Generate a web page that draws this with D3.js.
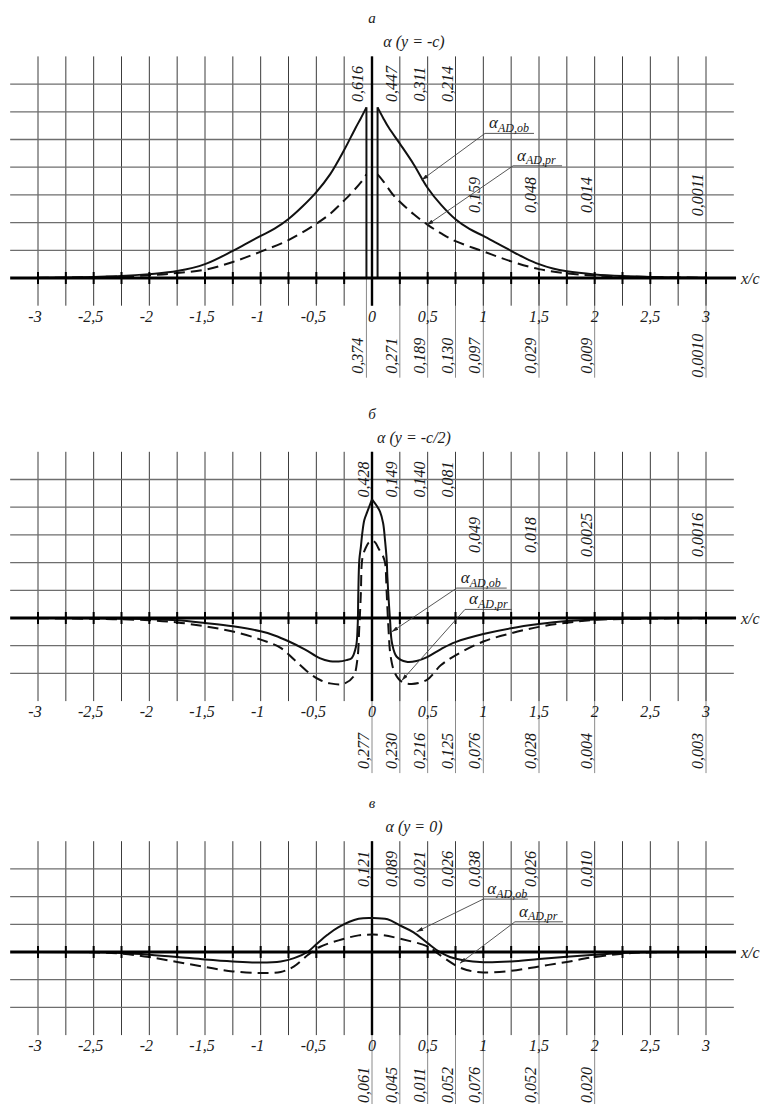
<!DOCTYPE html>
<html><head><meta charset="utf-8">
<script src="https://cdn.jsdelivr.net/npm/d3@7/dist/d3.min.js"></script>
<style>
body{margin:0;background:#fff}
</style>
</head><body>
<svg id="c" width="762" height="1104" font-family="'Liberation Serif', 'DejaVu Serif', serif" font-style="italic"></svg>
<script>
// ---------- shared axis data ----------
const xTicks = d3.range(-3, 3.0001, 0.25);
const xLabels = [-3, -2.5, -2, -1.5, -1, -0.5, 0, 0.5, 1, 1.5, 2, 2.5, 3];

// ---------- panel а : α (y = -c) ----------
const aObLeftX  = [-3, -2.75, -2.5, -2.25, -2, -1.75, -1.5, -1.25, -1.125, -1, -0.875, -0.75, -0.625, -0.5, -0.375, -0.25, -0.15, -0.1, -0.05];
const aObLeftV  = [0.001, 0.002, 0.004, 0.007, 0.014, 0.025, 0.05, 0.098, 0.125, 0.152, 0.178, 0.213, 0.258, 0.31, 0.375, 0.462, 0.54, 0.577, 0.616];
const aObRightX = [0.05, 0.1, 0.15, 0.25, 0.375, 0.5, 0.625, 0.75, 0.875, 1, 1.125, 1.25, 1.375, 1.5, 1.625, 1.75, 2, 2.25, 2.5, 2.75, 3];
const aObRightV = [0.616, 0.578, 0.543, 0.485, 0.41, 0.325, 0.262, 0.212, 0.177, 0.152, 0.125, 0.098, 0.072, 0.05, 0.034, 0.024, 0.013, 0.007, 0.004, 0.002, 0.001];
const aPrLeftX  = [-3, -2.5, -2, -1.75, -1.5, -1.25, -1, -0.75, -0.5, -0.375, -0.25, -0.2, -0.1, -0.05];
const aPrLeftV  = [0.001, 0.003, 0.01, 0.018, 0.03, 0.058, 0.095, 0.137, 0.196, 0.232, 0.28, 0.3, 0.345, 0.374];
const aPrRightX = [0.05, 0.1, 0.19, 0.25, 0.375, 0.5, 0.625, 0.75, 1, 1.25, 1.5, 1.75, 2, 2.5, 3];
const aPrRightV = [0.374, 0.35, 0.3, 0.275, 0.23, 0.192, 0.16, 0.133, 0.096, 0.06, 0.032, 0.017, 0.009, 0.003, 0.001];
const aTopPos   = [-0.05, 0.25, 0.5, 0.75, 1, 1.5, 2, 3];
const aTopText  = ["0,616", "0,447", "0,311", "0,214", "0,159", "0,048", "0,014", "0,0011"];
const aTopRow   = [0, 0, 0, 0, 1, 1, 1, 1];
const aBotPos   = [-0.05, 0.25, 0.5, 0.75, 1, 1.5, 2, 3];
const aBotText  = ["0,374", "0,271", "0,189", "0,130", "0,097", "0,029", "0,009", "0,0010"];

// ---------- panel б : α (y = -c/2) ----------
const bObLeftX  = [-3, -2.5, -2, -1.75, -1.5, -1.25, -1, -0.875, -0.75, -0.6, -0.47, -0.377, -0.3, -0.23, -0.183, -0.144, -0.129, -0.123, -0.114, -0.1, -0.087, -0.069, -0.042, 0];
const bObLeftV  = [0, -0.001, -0.004, -0.008, -0.018, -0.03, -0.048, -0.063, -0.084, -0.114, -0.145, -0.156, -0.157, -0.152, -0.145, -0.104, -0.031, 0.09, 0.209, 0.257, 0.307, 0.354, 0.384, 0.428];
const bObRightX = [0, 0.042, 0.072, 0.1, 0.117, 0.132, 0.138, 0.15, 0.162, 0.18, 0.222, 0.31, 0.4, 0.5, 0.62, 0.75, 1, 1.25, 1.5, 1.75, 2, 2.5, 3];
const bObRightV = [0.428, 0.405, 0.384, 0.342, 0.28, 0.21, 0.15, 0.065, -0.007, -0.091, -0.14, -0.158, -0.155, -0.14, -0.112, -0.087, -0.058, -0.037, -0.022, -0.011, -0.005, -0.001, 0];
const bPrX = [-3, -2.5, -2, -1.75, -1.5, -1.26, -1, -0.82, -0.7, -0.56, -0.47, -0.377, -0.258, -0.168, -0.132, -0.114, -0.1, -0.093, -0.082, -0.06, -0.03, 0,
              0.03, 0.06, 0.1, 0.117, 0.132, 0.147, 0.168, 0.207, 0.267, 0.356, 0.49, 0.62, 0.75, 1, 1.25, 1.5, 1.75, 2, 2.5, 3];
const bPrV = [-0.001, -0.003, -0.008, -0.016, -0.03, -0.048, -0.078, -0.108, -0.15, -0.2, -0.223, -0.236, -0.238, -0.212, -0.152, -0.031, 0.09, 0.19, 0.225, 0.25, 0.272, 0.28,
              0.272, 0.25, 0.222, 0.2, 0.09, -0.031, -0.14, -0.2, -0.23, -0.238, -0.224, -0.17, -0.135, -0.085, -0.055, -0.032, -0.017, -0.007, -0.002, -0.001];
const bTopPos   = [0, 0.25, 0.5, 0.75, 1, 1.5, 2, 3];
const bTopText  = ["0,428", "0,149", "0,140", "0,081", "0,049", "0,018", "0,0025", "0,0016"];
const bTopRow   = [0, 0, 0, 0, 1, 1, 1, 1];
const bBotPos   = [0, 0.25, 0.5, 0.75, 1, 1.5, 2, 3];
const bBotText  = ["0,277", "0,230", "0,216", "0,125", "0,076", "0,028", "0,004", "0,003"];

// ---------- panel в : α (y = 0) ----------
const cObX = [-3, -2.5, -2.25, -2, -1.75, -1.5, -1.25, -1, -0.82, -0.7, -0.58, -0.5, -0.4, -0.3, -0.12, 0, 0.14, 0.25, 0.37, 0.5, 0.6, 0.7, 0.82, 1, 1.25, 1.5, 1.75, 2, 2.25, 2.5, 3];
const cObV = [0, -0.001, -0.004, -0.01, -0.018, -0.027, -0.034, -0.038, -0.034, -0.022, 0, 0.028, 0.062, 0.09, 0.12, 0.123, 0.118, 0.096, 0.072, 0.032, 0.002, -0.018, -0.03, -0.037, -0.034, -0.025, -0.017, -0.01, -0.004, -0.001, 0];
const cPrX = [-3, -2.5, -2.25, -2, -1.75, -1.5, -1.25, -1, -0.82, -0.7, -0.58, -0.47, -0.3, -0.12, 0, 0.1, 0.25, 0.5, 0.6, 0.75, 0.85, 1, 1.25, 1.5, 1.75, 2, 2.25, 2.5, 3];
const cPrV = [0, -0.001, -0.006, -0.018, -0.036, -0.054, -0.07, -0.076, -0.072, -0.052, -0.012, 0.018, 0.042, 0.06, 0.063, 0.061, 0.048, 0.02, -0.008, -0.048, -0.065, -0.074, -0.068, -0.052, -0.036, -0.018, -0.006, -0.001, 0];
const cTopPos   = [0, 0.25, 0.5, 0.75, 1, 1.5, 2];
const cTopText  = ["0,121", "0,089", "0,021", "0,026", "0,038", "0,026", "0,010"];
const cTopRow   = [0, 0, 0, 0, 0, 0, 0];
const cBotPos   = [0, 0.25, 0.5, 0.75, 1, 1.5, 2];
const cBotText  = ["0,061", "0,045", "0,011", "0,052", "0,076", "0,052", "0,020"];

const zip = (xs, vs) => xs.map((d, i) => [d, vs[i]]);

// ---------- panel configs (built from arrays) ----------
const panels = [
  { letter: "а", sub: "α (y = -c)", axisY: 278, top: 0.8, bottom: -0.1, lowRow: 0.3,
    ob: [zip(aObLeftX, aObLeftV), zip(aObRightX, aObRightV)],
    pr: [zip(aPrLeftX, aPrLeftV), zip(aPrRightX, aPrRightV)],
    drops: [[aObLeftX[aObLeftX.length-1], aObLeftV[aObLeftV.length-1]], [aObRightX[0], aObRightV[0]]],
    topPos: aTopPos, topText: aTopText, topRow: aTopRow, botPos: aBotPos, botText: aBotText,
    leg: [{ sub: "AD,ob", u0: 1.015, u1: 1.455, uv: 0.522, tx: 0.446, tv: 0.354 },
          { sub: "AD,pr", u0: 1.267, u1: 1.707, uv: 0.405, tx: 0.494, tv: 0.191 }] },
  { letter: "б", sub: "α (y = -c/2)", axisY: 618, top: 0.6, bottom: -0.3, lowRow: 0.3,
    ob: [zip(bObLeftX, bObLeftV), zip(bObRightX, bObRightV)],
    pr: [zip(bPrX, bPrV)],
    drops: [],
    topPos: bTopPos, topText: bTopText, topRow: bTopRow, botPos: bBotPos, botText: bBotText,
    leg: [{ sub: "AD,ob", u0: 0.761, u1: 1.21, uv: 0.108, tx: 0.177, tv: -0.05 },
          { sub: "AD,pr", u0: 0.835, u1: 1.255, uv: 0.031, tx: 0.267, tv: -0.226 }] },
  { letter: "в", sub: "α (y = 0)", axisY: 952, top: 0.4, bottom: -0.3, lowRow: 0.3,
    ob: [zip(cObX, cObV)],
    pr: [zip(cPrX, cPrV)],
    drops: [],
    topPos: cTopPos, topText: cTopText, topRow: cTopRow, botPos: cBotPos, botText: cBotText,
    leg: [{ sub: "AD,ob", u0: 1.0, u1: 1.40, uv: 0.191, tx: 0.40, tv: 0.073 },
          { sub: "AD,pr", u0: 1.284, u1: 1.716, uv: 0.109, tx: 0.79, tv: -0.041 }] }
];

const svg = d3.select("#c");
const defs = svg.append("defs");
defs.append("marker").attr("id", "arr").attr("viewBox", "0 0 10 6").attr("refX", 10).attr("refY", 3)
  .attr("markerWidth", 7).attr("markerHeight", 4).attr("orient", "auto").attr("markerUnits", "userSpaceOnUse")
  .append("path").attr("d", "M0,0 L10,3 L0,6 z").attr("fill", "#222");

const x = d3.scaleLinear().domain([-3, 3]).range([38, 706]);
const fmt = v => String(v).replace(".", ",");

panels.forEach(p => {
  const y = d3.scaleLinear().domain([0, 0.1]).range([p.axisY, p.axisY - 27.7]);
  const g = svg.append("g").attr("fill", "#1a1a1a");
  const gTop = y(p.top), gBot = y(p.bottom);

  // titles
  g.append("text").attr("x", x(0)).attr("y", gTop - 33).attr("text-anchor", "middle").attr("font-size", 15).text(p.letter);
  g.append("text").attr("x", 414).attr("y", gTop - 9).attr("text-anchor", "middle").attr("font-size", 16).text(p.sub);

  // bottom label extension lines
  g.selectAll(".ext").data(p.botPos).join("line")
    .attr("x1", d => x(d)).attr("x2", d => x(d)).attr("y1", p.axisY).attr("y2", gBot + 72)
    .attr("stroke", "#8a8a8a").attr("stroke-width", 1);

  // vertical grid
  g.selectAll(".vg").data(xTicks).join("line")
    .attr("x1", d => x(d)).attr("x2", d => x(d)).attr("y1", gTop).attr("y2", gBot)
    .attr("stroke", "#3c3c3c").attr("stroke-width", 1);

  // horizontal grid
  const hv = d3.range(Math.round(p.bottom * 10) + 1, Math.round(p.top * 10)).filter(k => k !== 0).map(k => k / 10);
  g.selectAll(".hg").data(hv).join("line")
    .attr("x1", x(-3.25)).attr("x2", x(3.25)).attr("y1", d => y(d)).attr("y2", d => y(d))
    .attr("stroke", "#6e6e6e").attr("stroke-width", 1.3);

  // vertical axis (x = 0)
  g.append("line").attr("x1", x(0)).attr("x2", x(0)).attr("y1", gTop).attr("y2", gBot)
    .attr("stroke", "#000").attr("stroke-width", 2.4);

  // curves
  const line = d3.line().x(d => x(d[0])).y(d => y(d[1])).curve(d3.curveCatmullRom.alpha(0.5));
  p.pr.forEach(seg => g.append("path").attr("d", line(seg)).attr("fill", "none")
    .attr("stroke", "#111").attr("stroke-width", 2).attr("stroke-dasharray", "11,6"));
  p.ob.forEach(seg => g.append("path").attr("d", line(seg)).attr("fill", "none")
    .attr("stroke", "#111").attr("stroke-width", 2));
  p.drops.forEach(d => g.append("line").attr("x1", x(d[0])).attr("x2", x(d[0]))
    .attr("y1", y(d[1])).attr("y2", y(0)).attr("stroke", "#111").attr("stroke-width", 2));

  // x axis
  g.append("line").attr("x1", x(-3.25)).attr("x2", x(3.27)).attr("y1", y(0)).attr("y2", y(0))
    .attr("stroke", "#000").attr("stroke-width", 3);
  g.selectAll(".tk").data(xTicks).join("line")
    .attr("x1", d => x(d)).attr("x2", d => x(d)).attr("y1", y(0) - 6).attr("y2", y(0) + 6)
    .attr("stroke", "#000").attr("stroke-width", 2);
  g.append("text").attr("x", 741).attr("y", y(0) + 6).attr("font-size", 16).text("x/c");

  // tick labels
  g.selectAll(".tl").data(xLabels).join("text")
    .attr("x", d => x(d) - (d < 0 ? 3 : 0)).attr("y", gBot + 16)
    .attr("text-anchor", "middle").attr("font-size", 16).text(fmt);

  // value labels (rotated)
  p.topPos.forEach((pos, i) => {
    const yc = y(p.topRow[i] === 0 ? p.top - 0.1 : p.lowRow);
    g.append("text").attr("transform", `translate(${x(pos) - 3},${yc}) rotate(-90)`)
      .attr("text-anchor", "middle").attr("font-size", 16).text(p.topText[i]);
  });
  p.botPos.forEach((pos, i) => {
    g.append("text").attr("transform", `translate(${x(pos) - 3},${gBot + 50}) rotate(-90)`)
      .attr("text-anchor", "middle").attr("font-size", 16).text(p.botText[i]);
  });

  // legend labels with leader lines
  p.leg.forEach(l => {
    const ux0 = x(l.u0), ux1 = x(l.u1), uy = y(l.uv);
    g.append("line").attr("x1", ux0).attr("x2", ux1).attr("y1", uy).attr("y2", uy)
      .attr("stroke", "#444").attr("stroke-width", 0.9);
    g.append("line").attr("x1", ux0).attr("y1", uy).attr("x2", x(l.tx)).attr("y2", y(l.tv))
      .attr("stroke", "#444").attr("stroke-width", 0.9).attr("marker-end", "url(#arr)");
    const t = g.append("text").attr("x", ux0 + 4).attr("y", uy - 5).attr("font-size", 17);
    t.append("tspan").text("α");
    t.append("tspan").attr("font-size", 12).attr("dy", 3.5).text(l.sub);
  });
});
</script>
</body></html>
